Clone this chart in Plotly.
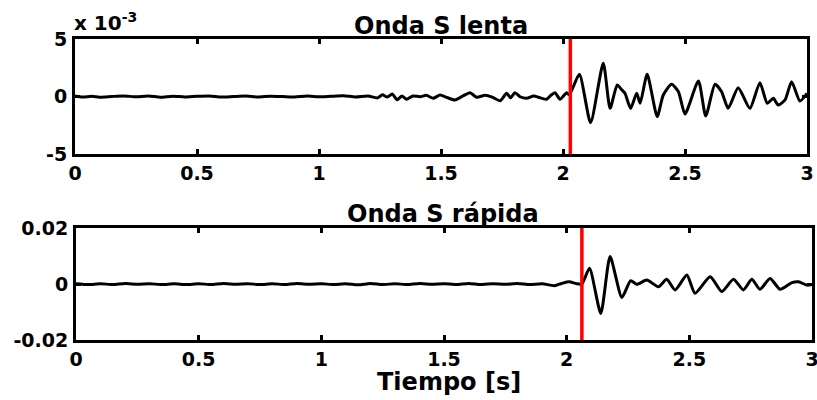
import plotly.graph_objects as go

# ---- Data ----
# Top panel: Onda S lenta (values in units of 1e-3)
t_slow = [0, 0.03, 0.07, 0.1, 0.15, 0.2, 0.25, 0.3, 0.35, 0.4, 0.45, 0.5, 0.55, 0.6, 0.65,
          0.7, 0.75, 0.8, 0.85, 0.9, 0.95, 1.0, 1.05, 1.1, 1.15, 1.2,
          1.24, 1.26, 1.28, 1.30, 1.32, 1.34, 1.359, 1.385, 1.414, 1.44, 1.468, 1.496, 1.52,
          1.557, 1.59, 1.619, 1.646, 1.68, 1.71, 1.742, 1.769, 1.785, 1.803, 1.824, 1.851,
          1.88, 1.905, 1.933, 1.95, 1.967, 1.988, 2.015, 2.026,
          2.067, 2.113, 2.165, 2.193, 2.222, 2.24, 2.254, 2.277, 2.302, 2.316, 2.345, 2.386,
          2.411, 2.445, 2.473, 2.5, 2.555, 2.585, 2.623, 2.65, 2.677, 2.718, 2.766, 2.807,
          2.837, 2.862, 2.882, 2.91, 2.937, 2.971, 3.0]
v_slow = [0.05, -0.05, 0.02, -0.06, 0.0, 0.05, -0.03, 0.04, -0.06, 0.03, -0.04, 0.02, 0.05, -0.05, 0.0,
          0.04, -0.04, 0.03, 0.0, -0.05, 0.04, -0.03, 0.02, 0.06, -0.04, 0.05,
          -0.12, 0.15, -0.05, 0.22, -0.28, 0.05, -0.24, 0.05, -0.02, 0.1, -0.16, 0.13, -0.05,
          -0.3, 0.05, 0.33, -0.07, 0.1, -0.05, -0.37, 0.28, -0.1, 0.33, -0.02, -0.16,
          0.05, -0.1, -0.24, 0.1, 0.33, -0.24, 0.33, 0.13,
          1.93, -2.28, 2.89, -1.03, 1.0, 0.6, 0.28, -1.03, 0.28, -0.59, 1.93, -1.75,
          0.13, 1.06, 0.42, -1.52, 1.35, -1.70, 1.06, 0.42, -1.03, 0.77, -1.03, 1.2,
          -0.59, -0.16, -0.74, -0.3, 1.29, -0.39, 0.28]

# Bottom panel: Onda S rápida
t_fast = [0, 0.05, 0.1, 0.15, 0.2, 0.25, 0.3, 0.35, 0.4, 0.45, 0.5, 0.55, 0.6, 0.65, 0.7,
          0.75, 0.8, 0.85, 0.9, 0.95, 1.0, 1.05, 1.1, 1.15, 1.2, 1.25, 1.3, 1.35, 1.4,
          1.45, 1.5, 1.55, 1.6, 1.65, 1.7, 1.75, 1.8, 1.85, 1.9, 1.95, 1.98, 2.01, 2.04, 2.062,
          2.093, 2.139, 2.177, 2.225, 2.261, 2.286, 2.327, 2.374, 2.408, 2.442, 2.490,
          2.523, 2.585, 2.632, 2.680, 2.720, 2.755, 2.788, 2.829, 2.870, 2.918, 2.945,
          2.979, 3.0]
v_fast = [0.0001, -0.0002, 0.0001, -0.0002, 0.0002, -0.0001, 0.0001, -0.0002, 0.0001, -0.0002,
          0.0001, -0.0002, 0.0002, -0.0001, 0.0001, -0.0002, 0.0001, -0.0002, 0.0002, -0.0001,
          0.0001, -0.0002, 0.0001, -0.0003, 0.0002, -0.0002, 0.0001, -0.0002, 0.0002, -0.0001,
          0.0001, -0.0002, 0.0002, -0.0002, 0.0001, -0.0001, 0.0002, -0.0002, 0.0001, -0.0006,
          0.0002, 0.0008, 0.0001, 0.0,
          0.0056, -0.0105, 0.0098, -0.0048, 0.0012, -0.0001, 0.0014, -0.001, 0.0017, -0.0021,
          0.0032, -0.0033, 0.0026, -0.0027, 0.0017, -0.0021, 0.0017, -0.0019, 0.002, -0.0019,
          0.0005, 0.0008, -0.0004, -0.0002]

pick_slow = 2.03   # s, red marker on top panel
pick_fast = 2.062  # s, red marker on bottom panel

slow_ticks = [-5, 0, 5]
slow_ticktext = ["-5", "0", "5"]
fast_ticks = [-0.02, 0, 0.02]
fast_ticktext = ["-0.02", "0", "0.02"]
x_ticks = [0, 0.5, 1, 1.5, 2, 2.5, 3]
x_ticktext = ["0", "0.5", "1", "1.5", "2", "2.5", "3"]

W, H = 817, 400
FONT = "DejaVu Sans"

fig = go.Figure()
fig.add_trace(go.Scatter(x=t_slow, y=v_slow, mode="lines", xaxis="x", yaxis="y",
                         line=dict(color="black", width=3, shape="spline", smoothing=0.6),
                         showlegend=False, hoverinfo="skip"))
fig.add_trace(go.Scatter(x=t_fast, y=v_fast, mode="lines", xaxis="x2", yaxis="y2",
                         line=dict(color="black", width=3, shape="spline", smoothing=0.6),
                         showlegend=False, hoverinfo="skip"))

tickfont = dict(family=FONT, size=19, color="black", weight="bold")
axis_common = dict(showline=True, linecolor="black", linewidth=3, mirror="ticks",
                   ticks="inside", ticklen=5, tickwidth=2.5, tickcolor="black",
                   showgrid=False, zeroline=False, automargin=False, tickfont=tickfont,
                   ticklabeloverflow="allow")

fig.update_layout(
    width=W, height=H, margin=dict(l=0, r=0, t=0, b=0, pad=0), autosize=False,
    paper_bgcolor="white", plot_bgcolor="white",
    xaxis=dict(domain=[75 / W, 807 / W], range=[0, 3], tickvals=x_ticks, ticktext=x_ticktext,
               anchor="y", ticklabelstandoff=0, **axis_common),
    yaxis=dict(domain=[1 - 154 / H, 1 - 39 / H], range=[-5, 5], tickvals=slow_ticks,
               ticktext=slow_ticktext, anchor="x", ticklabelstandoff=1, **axis_common),
    xaxis2=dict(domain=[76 / W, 812 / W], range=[0, 3], tickvals=x_ticks, ticktext=x_ticktext,
                anchor="y2", ticklabelstandoff=0, **axis_common),
    yaxis2=dict(domain=[1 - 340 / H, 1 - 228 / H], range=[-0.02, 0.02], tickvals=fast_ticks,
                ticktext=fast_ticktext, anchor="x2", ticklabelstandoff=1, **axis_common),
)

fig.add_shape(type="line", xref="x", yref="y domain", x0=pick_slow, x1=pick_slow, y0=0, y1=1,
              line=dict(color="red", width=3.5))
fig.add_shape(type="line", xref="x2", yref="y2 domain", x0=pick_fast, x1=pick_fast, y0=0, y1=1,
              line=dict(color="red", width=3.5))

title_font = dict(family=FONT, size=24, color="black", weight="bold")
fig.add_annotation(text="Onda S lenta", xref="paper", yref="paper", x=441 / W, y=1 - 26 / H,
                   showarrow=False, font=title_font, xanchor="center", yanchor="middle")
fig.add_annotation(text="Onda S rápida", xref="paper", yref="paper", x=443 / W, y=1 - 214 / H,
                   showarrow=False, font=title_font, xanchor="center", yanchor="middle")
fig.add_annotation(text="Tiempo [s]", xref="paper", yref="paper", x=449 / W, y=1 - 382 / H,
                   showarrow=False, font=title_font, xanchor="center", yanchor="middle")
fig.add_annotation(text="x 10<sup>-3</sup>", xref="paper", yref="paper", x=72 / W, y=1 - 22 / H,
                   showarrow=False, font=dict(family=FONT, size=20, color="black", weight="bold"),
                   xanchor="left", yanchor="middle")

fig.write_html("out.html")
